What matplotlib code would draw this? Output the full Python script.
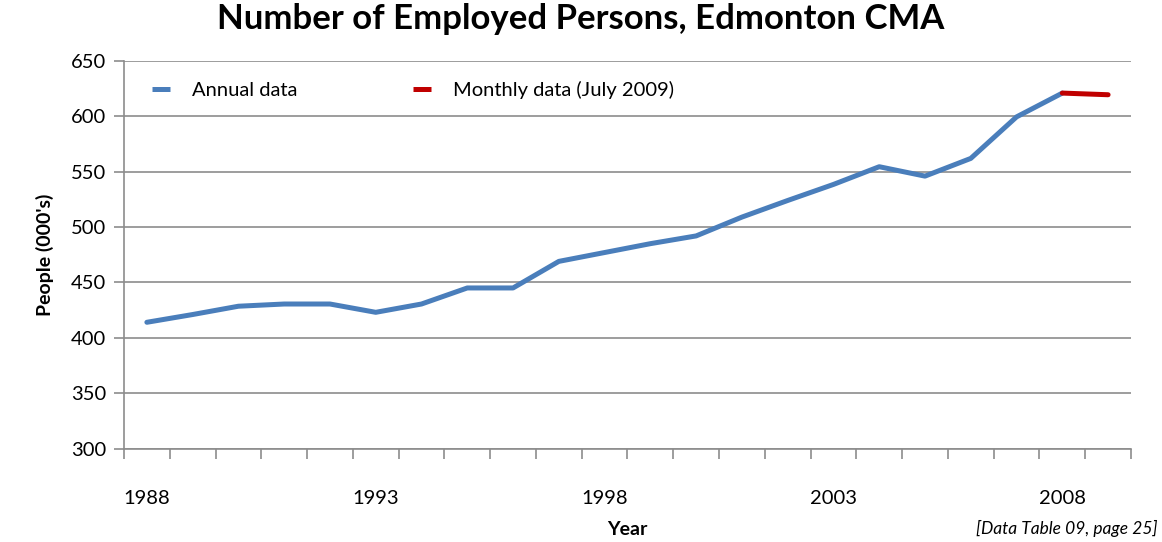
import numpy as np
import matplotlib.pyplot as plt
from matplotlib.ticker import FixedLocator

plt.rcParams['font.family'] = ['Lato', 'DejaVu Sans']

# ── Data ──────────────────────────────────────────────────────────────────────
years = list(range(1988, 2010))
annual = [414, 421, 428.5, 430.5, 430.5, 423, 430.5, 445, 445, 469,
          477, 485, 492, 509, 524, 538.5, 554.5, 546, 562, 599.5, 621]
monthly_years = [2008, 2009]
monthly = [621, 619.5]

# ── Plot ──────────────────────────────────────────────────────────────────────
fig = plt.figure(figsize=(11.62, 5.42), dpi=100)
ax = fig.add_axes([0.1067, 0.1725, 0.8666, 0.715])

xa = [years.index(y) for y in years[:len(annual)]]
xm = [years.index(y) for y in monthly_years]
ax.plot(xa, annual, color='#4a7ebb', lw=3.6, solid_capstyle='round',
        solid_joinstyle='round', label='Annual data', zorder=3)
ax.plot(xm, monthly, color='#c00000', lw=3.6, solid_capstyle='round',
        label='Monthly data (July 2009)', zorder=4)

ax.set_xlim(-0.5, len(years) - 0.5)
ax.set_ylim(300, 650)
ax.set_yticks(np.arange(300, 651, 50))
ax.yaxis.grid(True, color='#8c8c8c', lw=1.2)
ax.set_axisbelow(True)

major = [i for i, y in enumerate(years) if (y - 1988) % 5 == 0]
ax.set_xticks(major)
ax.set_xticklabels([str(years[i]) for i in major])
ax.xaxis.set_minor_locator(FixedLocator(np.arange(-0.5, len(years), 1)))
ax.tick_params(axis='x', which='major', length=0, pad=30, labelsize=14.5)
ax.tick_params(axis='x', which='minor', length=7, color='#8c8c8c', width=1.2)
ax.tick_params(axis='y', length=7, color='#8c8c8c', width=1.2, labelsize=14.5, pad=6)

for s in ['top', 'right']:
    ax.spines[s].set_visible(False)
for s in ['left', 'bottom']:
    ax.spines[s].set_color('#8c8c8c')
    ax.spines[s].set_linewidth(1.2)

ax.set_ylabel("People (000's)", fontsize=14, fontweight='bold', labelpad=12)
ax.set_xlabel('Year', fontsize=14, fontweight='bold', labelpad=10)
fig.suptitle('Number of Employed Persons, Edmonton CMA', fontsize=25,
             fontweight='bold', x=0.5, y=0.995)

leg = ax.legend(loc='upper left', ncol=2, frameon=False, fontsize=14.5,
                handlelength=0.9, handletextpad=1.1, columnspacing=5.7,
                bbox_to_anchor=(0.01, 0.995))
for h in leg.get_lines():
    h.set_linewidth(3.6)
    h.set_solid_capstyle('butt')

fig.text(0.996, 0.01, '[Data Table 09, page 25]', fontsize=12.5,
         style='italic', ha='right', va='bottom')

plt.savefig('out.png', dpi=100)
